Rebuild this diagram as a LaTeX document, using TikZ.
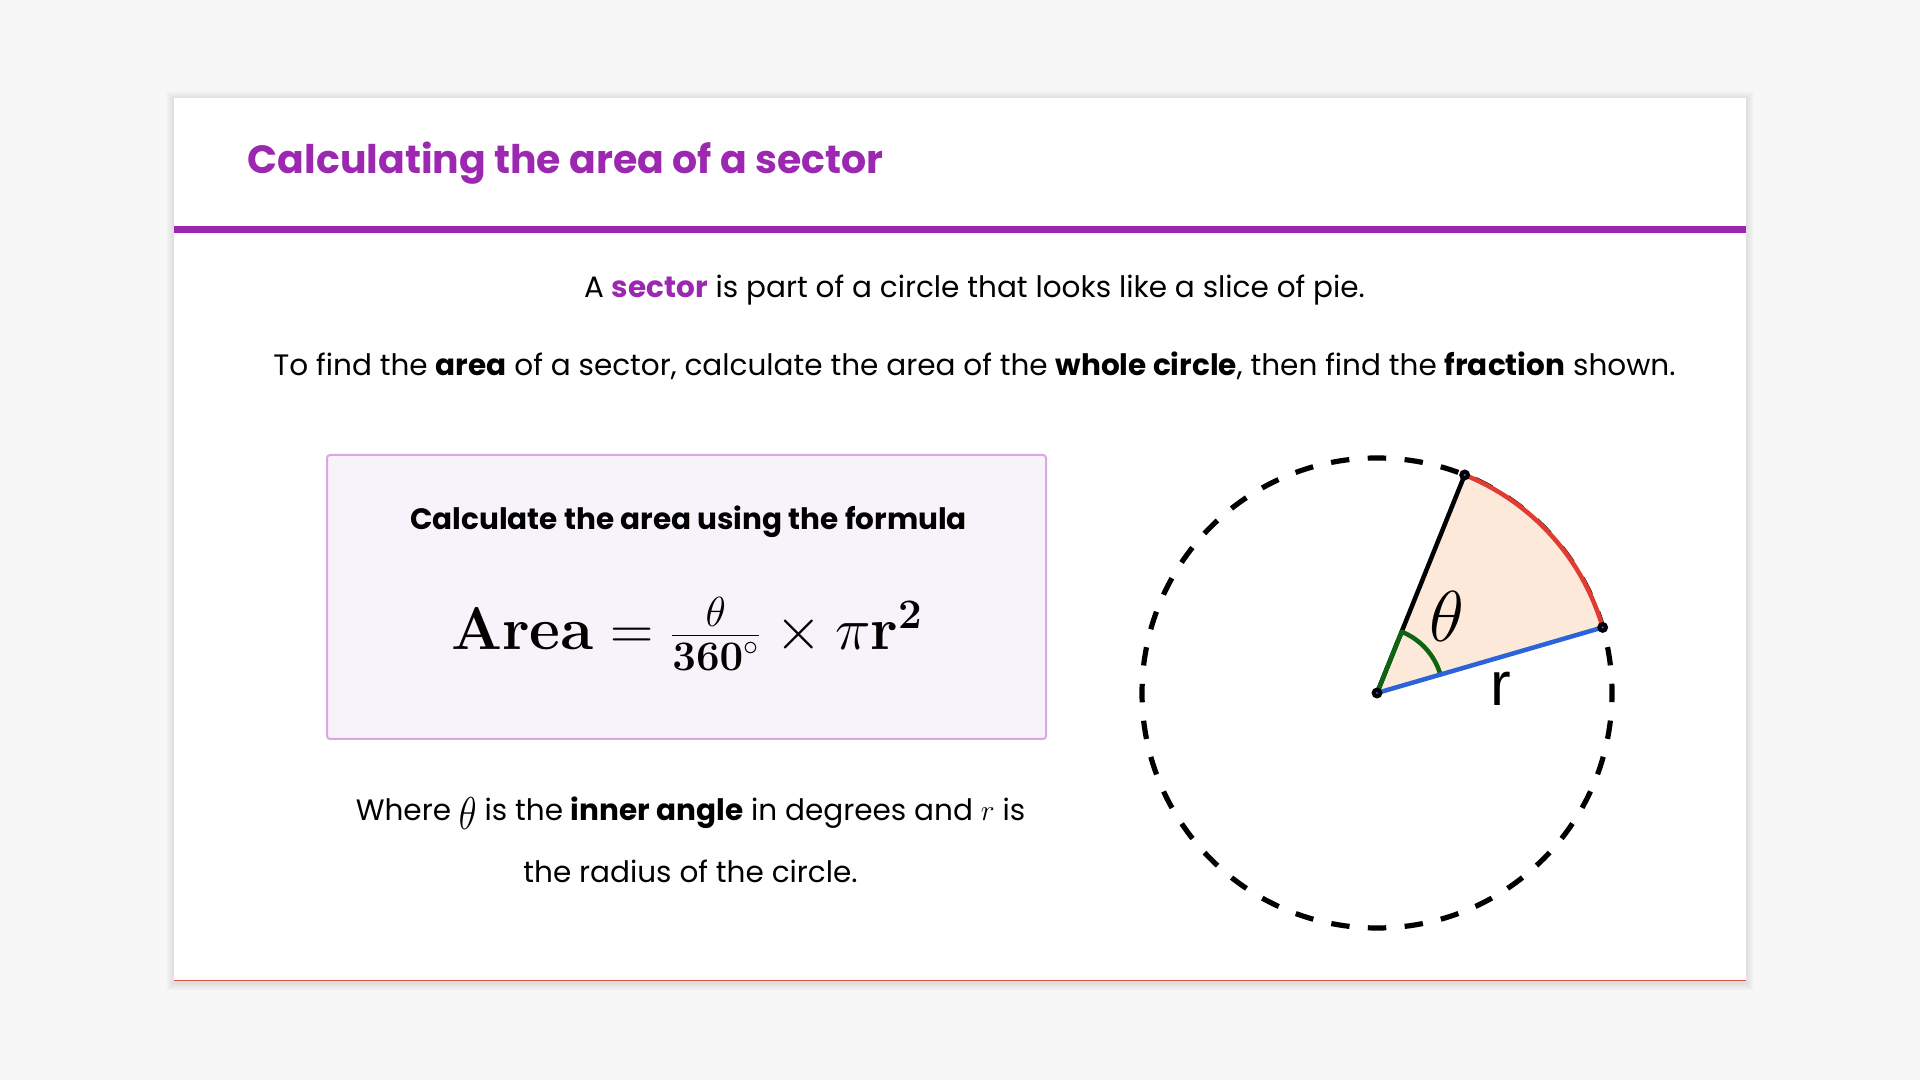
\RequirePackage{fix-cm}
\documentclass[tikz,border=0pt]{standalone}
\usepackage{graphicx}
\usepackage[no-math]{fontspec}
\setmainfont{Poppins}
\newfontfamily\geofont{Liberation Sans}
\definecolor{bgc}{HTML}{F7F7F7}
\definecolor{purp}{HTML}{9C27B0}
\definecolor{boxfill}{HTML}{F8F3FA}
\definecolor{boxdraw}{HTML}{D9A8E2}
\definecolor{peach}{HTML}{FDE9D9}
\definecolor{arcred}{HTML}{E03C31}
\definecolor{radblue}{HTML}{2A63DB}
\definecolor{angreen}{HTML}{0E6410}
\definecolor{edgered}{HTML}{DC4F42}
\newcommand{\bigtheta}{\raisebox{-4.5pt}{\scalebox{0.8}[1]{\fontsize{23}{23}\selectfont$\theta$}}}
\tikzset{
  body/.style={font=\fontsize{14.75}{17}\selectfont, inner sep=0pt, anchor=base},
  geoline/.style={line width=2.25pt, line cap=round, line join=round},
}
\begin{document}
\begin{tikzpicture}[x=0.5pt,y=0.5pt]
\useasboundingbox (0,0) rectangle (1920,1080);
\fill[bgc] (0,0) rectangle (1920,1080);
% card shadow
\foreach \i in {1,...,8} {
  \fill[black,opacity=0.010] (174-\i,99-\i-2) rectangle (1746+\i,982+\i-1);
}
% card
\fill[white] (174,99) rectangle (1746,982);
\draw[edgered, line width=0.65pt] (174,99.6) -- (1746,99.6);
\fill[purp] (174,847) rectangle (1746,854);
% title
\node[anchor=base west, inner sep=0pt, font=\fontsize{19.7}{24}\selectfont\bfseries, text=purp] (title) at (247.5,906) {Calculating the area of a sector};
% intro lines
\node[body] (l1) at (974.5,782) {A \textbf{\textcolor{purp}{sector}} is part of a circle that looks like a slice of pie.};
\node[body] (l2) at (974.5,704) {To find the \textbf{area} of a sector, calculate the area of the \textbf{whole circle}, then find the \textbf{fraction} shown.};
% formula box
\draw[draw=boxdraw, fill=boxfill, line width=1pt, rounded corners=1.5pt] (327,341) rectangle (1046,625);
\node[anchor=base, inner sep=0pt, font=\fontsize{14.75}{17}\selectfont\bfseries] (head) at (688.5,550.5) {Calculate the area using the formula};
\node[anchor=base, inner sep=0pt, font=\fontsize{30}{36}\selectfont] (formula) at (687,430) {$\mathbf{Area} = \frac{\theta}{\mathbf{360}^{\circ}} \times \pi\mathbf{r}^{\mathbf{2}}$};
% explanation
\node[body] (w1) at (690.5,259) {Where \bigtheta{} is the \textbf{inner angle} in degrees and $r$ is};
\node[body] (w2) at (690.5,197.5) {the radius of the circle.};
% circle and sector
\coordinate (O) at (1377,387);
\path (O) ++(68.1:235) coordinate (A);
\path (O) ++(16.2:235) coordinate (B);
\path (O) ++(16.2:66) coordinate (G1);
\draw[black, line width=2.6pt, dash pattern=on 9.23pt off 9.23pt]
  ([shift={(267.75:235)}]O) arc[start angle=267.75, end angle=627.75, radius=235];
\fill[peach] (O) -- (B) arc[start angle=16.2, end angle=68.1, radius=235] -- cycle;
\draw[arcred, geoline] (B) arc[start angle=16.2, end angle=68.1, radius=235];
\draw[black, geoline] (O) -- (A);
\draw[angreen, geoline] (G1) arc[start angle=16.2, end angle=68.1, radius=66] -- (O);
\draw[radblue, geoline] (O) -- (B);
\foreach \p in {O,A,B} {
  \fill[black] (\p) circle[radius=5.5];
  \fill[radblue] (\p) circle[radius=1.2];
}
\node[inner sep=0pt, font=\fontsize{36}{40}\selectfont] (th) at (1447,463) {$\theta$};
\node[anchor=base, inner sep=0pt, font=\geofont\fontsize{31}{36}\selectfont] (rl) at (1500.5,374) {r};
\end{tikzpicture}
\end{document}
